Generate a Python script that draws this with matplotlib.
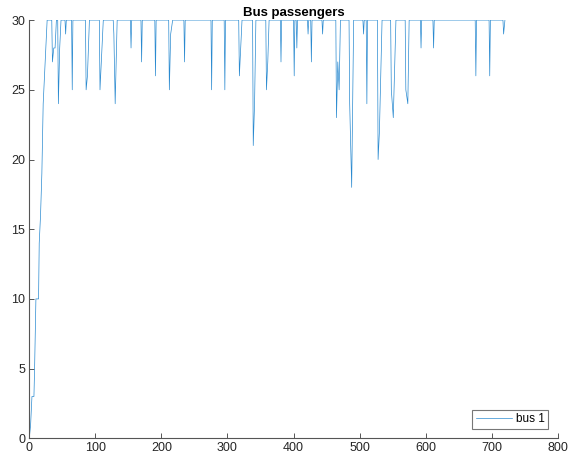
import matplotlib.pyplot as plt

# passenger count of bus 1 over time (vertices of the trace)
t = [0, 2, 4, 7, 8, 10, 14, 15, 17, 19, 21, 24, 27,
     34, 35, 37, 39, 41, 43, 44, 46, 48,
     54, 55, 56, 64, 65, 66,
     85, 86, 88, 91, 106, 107, 109, 112,
     127, 128, 130, 133, 153, 154, 155, 169, 170, 171,
     190, 191, 192, 211, 212, 214, 217, 234, 235, 236,
     275, 276, 277, 295, 296, 297,
     317, 318, 320, 322, 338, 339, 341, 343,
     358, 359, 361, 363, 380, 381, 382,
     400, 401, 402, 404, 405, 406, 421, 422, 423, 426, 427, 428,
     443, 444, 445, 464, 465, 467, 469, 471,
     484, 485, 488, 491, 505, 506, 507, 510, 511, 512,
     527, 528, 530, 534, 547, 548, 551, 555,
     569, 570, 573, 575, 592, 593, 594, 611, 612, 613,
     675, 676, 677, 696, 697, 698, 717, 718, 720]
passengers = [0, 1, 3, 3, 5, 10, 10, 14, 16, 19, 24, 27, 30,
              30, 27, 28, 28, 30, 30, 24, 28, 30,
              30, 29, 30, 30, 25, 30,
              30, 25, 26, 30, 30, 25, 27, 30,
              30, 29, 24, 30, 30, 28, 30, 30, 27, 30,
              30, 26, 30, 30, 25, 29, 30, 30, 27, 30,
              30, 25, 30, 30, 25, 30,
              30, 26, 28, 30, 30, 21, 24, 30,
              30, 25, 27, 30, 30, 27, 30,
              30, 26, 30, 30, 28, 30, 30, 29, 30, 30, 27, 30,
              30, 29, 30, 30, 23, 27, 25, 30,
              30, 24, 18, 30, 30, 29, 30, 30, 24, 30,
              30, 20, 22, 30, 30, 25, 23, 30,
              30, 25, 24, 30, 30, 28, 30, 30, 28, 30,
              30, 26, 30, 30, 26, 30, 30, 29, 30]

plt.rcParams['font.family'] = ['Liberation Sans', 'DejaVu Sans']

fig = plt.figure(figsize=(5.68, 4.63), dpi=100)
ax = fig.add_axes([0.0516, 0.0533, 0.9304, 0.9033])

ax.plot(t, passengers, color='#2a8ad0', lw=0.5, label='bus 1')

ax.set_xlim(0, 800)
ax.set_ylim(0, 30)
ax.set_xticks(range(0, 801, 100))
ax.set_yticks(range(0, 31, 5))
ax.set_title('Bus passengers', fontsize=9.5, fontweight='bold', pad=3)

for side in ['top', 'right']:
    ax.spines[side].set_visible(False)
for side in ['left', 'bottom']:
    ax.spines[side].set_color('#555555')
    ax.spines[side].set_linewidth(0.8)
ax.tick_params(direction='in', length=3.6, width=0.7, color='#555555',
               labelsize=9, labelcolor='#262626', pad=3)

leg = ax.legend(loc='lower right', fontsize=8.5, fancybox=False,
                edgecolor='#777777', framealpha=1, borderpad=0.3,
                handlelength=3.1, handletextpad=0.3, borderaxespad=0.8)
leg.get_frame().set_linewidth(0.8)

fig.savefig('out.png', dpi=100)
